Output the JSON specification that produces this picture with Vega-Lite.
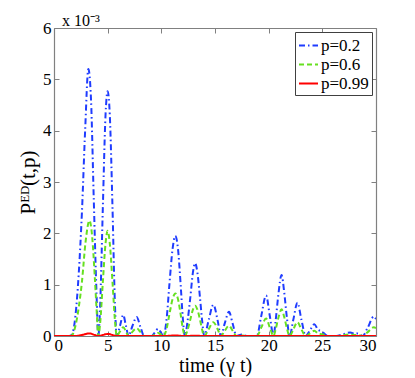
{
  "$schema": "https://vega.github.io/schema/vega-lite/v6.json",
  "autosize": {"type": "none"},
  "padding": {"left": 54, "top": 28, "right": 39, "bottom": 42},
  "width": 322,
  "height": 308,
  "background": "white",
  "title": {"text": "x 10⁻³", "anchor": "start", "frame": "group", "font": "Liberation Serif", "fontSize": 16, "fontWeight": "normal", "color": "black", "offset": -10, "dx": 8, "baseline": "top"},
  "config": {
    "view": {"stroke": null},
    "font": "Liberation Serif",
    "axis": {"grid": false, "domainColor": "#808080", "domainWidth": 1.2, "tickColor": "#808080", "tickSize": -5, "labelColor": "black", "labelFont": "Liberation Serif", "labelFontSize": 17, "titleFont": "Liberation Serif", "titleColor": "black", "titleFontWeight": "normal"}
  },
  "data": {"values": [
    {"t":0,"v":0,"p":"p=0.2"},{"t":1.4,"v":0,"p":"p=0.2"},{"t":1.65,"v":0.02,"p":"p=0.2"},{"t":2.0,"v":0.4,"p":"p=0.2"},{"t":2.3,"v":1.2,"p":"p=0.2"},{"t":2.6,"v":2.4,"p":"p=0.2"},{"t":2.9,"v":4.0,"p":"p=0.2"},{"t":3.2,"v":5.2,"p":"p=0.2"},{"t":3.45,"v":4.6,"p":"p=0.2"},{"t":3.7,"v":2.7,"p":"p=0.2"},{"t":3.95,"v":0.9,"p":"p=0.2"},{"t":4.13,"v":0,"p":"p=0.2"},{"t":4.3,"v":0.6,"p":"p=0.2"},{"t":4.55,"v":2.5,"p":"p=0.2"},{"t":4.8,"v":4.3,"p":"p=0.2"},{"t":5.0,"v":4.77,"p":"p=0.2"},{"t":5.2,"v":4.3,"p":"p=0.2"},{"t":5.45,"v":2.5,"p":"p=0.2"},{"t":5.68,"v":0.6,"p":"p=0.2"},{"t":5.85,"v":0,"p":"p=0.2"},{"t":6.15,"v":0.2,"p":"p=0.2"},{"t":6.45,"v":0.41,"p":"p=0.2"},{"t":6.7,"v":0.2,"p":"p=0.2"},{"t":6.95,"v":0,"p":"p=0.2"},{"t":7.3,"v":0.19,"p":"p=0.2"},{"t":7.7,"v":0.37,"p":"p=0.2"},{"t":8.05,"v":0.18,"p":"p=0.2"},{"t":8.4,"v":0,"p":"p=0.2"},{"t":9.1,"v":0,"p":"p=0.2"},{"t":9.4,"v":0.07,"p":"p=0.2"},{"t":9.7,"v":0.14,"p":"p=0.2"},{"t":9.95,"v":0.07,"p":"p=0.2"},{"t":10.2,"v":0,"p":"p=0.2"},{"t":10.5,"v":0.35,"p":"p=0.2"},{"t":10.75,"v":1.0,"p":"p=0.2"},{"t":11.05,"v":1.7,"p":"p=0.2"},{"t":11.3,"v":1.95,"p":"p=0.2"},{"t":11.55,"v":1.7,"p":"p=0.2"},{"t":11.8,"v":1.0,"p":"p=0.2"},{"t":12.0,"v":0.35,"p":"p=0.2"},{"t":12.2,"v":0,"p":"p=0.2"},{"t":12.45,"v":0.3,"p":"p=0.2"},{"t":12.7,"v":0.75,"p":"p=0.2"},{"t":12.95,"v":1.25,"p":"p=0.2"},{"t":13.15,"v":1.42,"p":"p=0.2"},{"t":13.35,"v":1.25,"p":"p=0.2"},{"t":13.6,"v":0.75,"p":"p=0.2"},{"t":13.8,"v":0.3,"p":"p=0.2"},{"t":14.0,"v":0,"p":"p=0.2"},{"t":14.4,"v":0.3,"p":"p=0.2"},{"t":14.85,"v":0.61,"p":"p=0.2"},{"t":15.25,"v":0.3,"p":"p=0.2"},{"t":15.55,"v":0,"p":"p=0.2"},{"t":15.9,"v":0.24,"p":"p=0.2"},{"t":16.3,"v":0.47,"p":"p=0.2"},{"t":16.65,"v":0.24,"p":"p=0.2"},{"t":17.0,"v":0,"p":"p=0.2"},{"t":17.5,"v":0.03,"p":"p=0.2"},{"t":18.0,"v":0,"p":"p=0.2"},{"t":18.9,"v":0,"p":"p=0.2"},{"t":19.3,"v":0.38,"p":"p=0.2"},{"t":19.76,"v":0.79,"p":"p=0.2"},{"t":20.1,"v":0.4,"p":"p=0.2"},{"t":20.45,"v":0,"p":"p=0.2"},{"t":20.65,"v":0.3,"p":"p=0.2"},{"t":20.9,"v":0.8,"p":"p=0.2"},{"t":21.2,"v":1.19,"p":"p=0.2"},{"t":21.45,"v":0.85,"p":"p=0.2"},{"t":21.7,"v":0.35,"p":"p=0.2"},{"t":21.95,"v":0,"p":"p=0.2"},{"t":22.3,"v":0.32,"p":"p=0.2"},{"t":22.68,"v":0.65,"p":"p=0.2"},{"t":23.05,"v":0.32,"p":"p=0.2"},{"t":23.45,"v":0,"p":"p=0.2"},{"t":23.85,"v":0.11,"p":"p=0.2"},{"t":24.26,"v":0.23,"p":"p=0.2"},{"t":24.6,"v":0.12,"p":"p=0.2"},{"t":24.8,"v":0.1,"p":"p=0.2"},{"t":25.1,"v":0.06,"p":"p=0.2"},{"t":25.5,"v":0,"p":"p=0.2"},{"t":26.3,"v":0,"p":"p=0.2"},{"t":26.9,"v":0.03,"p":"p=0.2"},{"t":27.6,"v":0.07,"p":"p=0.2"},{"t":28.0,"v":0.04,"p":"p=0.2"},{"t":28.3,"v":0.05,"p":"p=0.2"},{"t":28.75,"v":0,"p":"p=0.2"},{"t":29.2,"v":0.15,"p":"p=0.2"},{"t":29.8,"v":0.38,"p":"p=0.2"},{"t":30,"v":0.33,"p":"p=0.2"},

    {"t":0,"v":0,"p":"p=0.6"},{"t":1.4,"v":0,"p":"p=0.6"},{"t":1.65,"v":0.01,"p":"p=0.6"},{"t":2.0,"v":0.2,"p":"p=0.6"},{"t":2.3,"v":0.55,"p":"p=0.6"},{"t":2.6,"v":1.05,"p":"p=0.6"},{"t":2.95,"v":1.85,"p":"p=0.6"},{"t":3.3,"v":2.25,"p":"p=0.6"},{"t":3.55,"v":1.95,"p":"p=0.6"},{"t":3.8,"v":1.15,"p":"p=0.6"},{"t":4.0,"v":0.4,"p":"p=0.6"},{"t":4.13,"v":0,"p":"p=0.6"},{"t":4.3,"v":0.25,"p":"p=0.6"},{"t":4.55,"v":1.05,"p":"p=0.6"},{"t":4.8,"v":1.8,"p":"p=0.6"},{"t":5.0,"v":2.05,"p":"p=0.6"},{"t":5.2,"v":1.8,"p":"p=0.6"},{"t":5.45,"v":1.05,"p":"p=0.6"},{"t":5.68,"v":0.3,"p":"p=0.6"},{"t":5.85,"v":0,"p":"p=0.6"},{"t":6.15,"v":0.09,"p":"p=0.6"},{"t":6.45,"v":0.17,"p":"p=0.6"},{"t":6.7,"v":0.09,"p":"p=0.6"},{"t":6.95,"v":0,"p":"p=0.6"},{"t":7.3,"v":0.08,"p":"p=0.6"},{"t":7.7,"v":0.15,"p":"p=0.6"},{"t":8.05,"v":0.08,"p":"p=0.6"},{"t":8.4,"v":0,"p":"p=0.6"},{"t":9.1,"v":0,"p":"p=0.6"},{"t":9.4,"v":0.03,"p":"p=0.6"},{"t":9.7,"v":0.06,"p":"p=0.6"},{"t":9.95,"v":0.03,"p":"p=0.6"},{"t":10.2,"v":0,"p":"p=0.6"},{"t":10.5,"v":0.15,"p":"p=0.6"},{"t":10.75,"v":0.42,"p":"p=0.6"},{"t":11.05,"v":0.72,"p":"p=0.6"},{"t":11.3,"v":0.83,"p":"p=0.6"},{"t":11.55,"v":0.72,"p":"p=0.6"},{"t":11.8,"v":0.42,"p":"p=0.6"},{"t":12.0,"v":0.15,"p":"p=0.6"},{"t":12.2,"v":0,"p":"p=0.6"},{"t":12.45,"v":0.12,"p":"p=0.6"},{"t":12.7,"v":0.32,"p":"p=0.6"},{"t":12.95,"v":0.52,"p":"p=0.6"},{"t":13.15,"v":0.59,"p":"p=0.6"},{"t":13.35,"v":0.52,"p":"p=0.6"},{"t":13.6,"v":0.32,"p":"p=0.6"},{"t":13.8,"v":0.12,"p":"p=0.6"},{"t":14.0,"v":0,"p":"p=0.6"},{"t":14.4,"v":0.13,"p":"p=0.6"},{"t":14.85,"v":0.27,"p":"p=0.6"},{"t":15.25,"v":0.13,"p":"p=0.6"},{"t":15.55,"v":0,"p":"p=0.6"},{"t":15.9,"v":0.1,"p":"p=0.6"},{"t":16.3,"v":0.2,"p":"p=0.6"},{"t":16.65,"v":0.1,"p":"p=0.6"},{"t":17.0,"v":0,"p":"p=0.6"},{"t":17.5,"v":0.01,"p":"p=0.6"},{"t":18.0,"v":0,"p":"p=0.6"},{"t":18.9,"v":0,"p":"p=0.6"},{"t":19.3,"v":0.16,"p":"p=0.6"},{"t":19.76,"v":0.34,"p":"p=0.6"},{"t":20.1,"v":0.17,"p":"p=0.6"},{"t":20.45,"v":0,"p":"p=0.6"},{"t":20.65,"v":0.13,"p":"p=0.6"},{"t":20.9,"v":0.35,"p":"p=0.6"},{"t":21.2,"v":0.52,"p":"p=0.6"},{"t":21.45,"v":0.37,"p":"p=0.6"},{"t":21.7,"v":0.15,"p":"p=0.6"},{"t":21.95,"v":0,"p":"p=0.6"},{"t":22.3,"v":0.13,"p":"p=0.6"},{"t":22.68,"v":0.27,"p":"p=0.6"},{"t":23.05,"v":0.13,"p":"p=0.6"},{"t":23.45,"v":0,"p":"p=0.6"},{"t":23.85,"v":0.05,"p":"p=0.6"},{"t":24.26,"v":0.1,"p":"p=0.6"},{"t":24.6,"v":0.05,"p":"p=0.6"},{"t":24.8,"v":0.04,"p":"p=0.6"},{"t":25.1,"v":0.03,"p":"p=0.6"},{"t":25.5,"v":0,"p":"p=0.6"},{"t":26.3,"v":0,"p":"p=0.6"},{"t":27.6,"v":0.03,"p":"p=0.6"},{"t":28.0,"v":0.02,"p":"p=0.6"},{"t":28.3,"v":0.02,"p":"p=0.6"},{"t":28.75,"v":0,"p":"p=0.6"},{"t":29.2,"v":0.07,"p":"p=0.6"},{"t":29.8,"v":0.17,"p":"p=0.6"},{"t":30,"v":0.15,"p":"p=0.6"},

    {"t":0,"v":0,"p":"p=0.99"},{"t":2.0,"v":0,"p":"p=0.99"},{"t":2.6,"v":0.02,"p":"p=0.99"},{"t":3.3,"v":0.05,"p":"p=0.99"},{"t":3.8,"v":0.02,"p":"p=0.99"},{"t":4.13,"v":0,"p":"p=0.99"},{"t":4.55,"v":0.02,"p":"p=0.99"},{"t":5.0,"v":0.04,"p":"p=0.99"},{"t":5.45,"v":0.02,"p":"p=0.99"},{"t":5.85,"v":0,"p":"p=0.99"},{"t":10.2,"v":0,"p":"p=0.99"},{"t":11.3,"v":0.01,"p":"p=0.99"},{"t":12.2,"v":0,"p":"p=0.99"},{"t":13.15,"v":0.005,"p":"p=0.99"},{"t":14.0,"v":0,"p":"p=0.99"},{"t":30,"v":0,"p":"p=0.99"}
  ]},
  "layer": [
    {
      "mark": {"type": "line", "interpolate": "monotone", "strokeWidth": 2, "clip": true},
      "encoding": {
        "x": {"field": "t", "type": "quantitative", "scale": {"domain": [0, 30], "nice": false}, "axis": {"values": [0,5,10,15,20,25,30], "title": "time (γ t)", "titleFontSize": 20, "titlePadding": 2, "labelPadding": 6}},
        "y": {"field": "v", "type": "quantitative", "scale": {"domain": [0, 6], "nice": false}, "axis": {"values": [0,1,2,3,4,5,6], "title": "Pᴱᴰ(t,p)", "titleFontSize": 21, "titlePadding": 4, "labelPadding": 8}},
        "color": {"field": "p", "type": "nominal", "scale": {"domain": ["p=0.2","p=0.6","p=0.99"], "range": ["#1f3cff","#66e020","#ff0000"]},
          "legend": {"title": null, "orient": "top-right", "offset": 4, "fillColor": "white", "strokeColor": "#404040", "padding": 3, "symbolType": "stroke", "symbolSize": 361, "symbolStrokeWidth": 2, "labelFont": "Liberation Serif", "labelFontSize": 17, "labelColor": "black", "rowPadding": 0, "labelOffset": 2}},
        "strokeDash": {"field": "p", "type": "nominal", "scale": {"domain": ["p=0.2","p=0.6","p=0.99"], "range": [[6,3,1.5,3],[5,3],[1,0]]}, "legend": null},
        "order": {"field": "t", "type": "quantitative"}
      }
    },
    {
      "mark": {"type": "line", "opacity": 0},
      "encoding": {
        "x": {"field": "t", "type": "quantitative", "axis": {"orient": "top", "values": [0,5,10,15,20,25,30], "labels": false, "title": null}},
        "y": {"field": "v", "type": "quantitative", "axis": {"orient": "right", "values": [0,1,2,3,4,5,6], "labels": false, "title": null}}
      }
    }
  ],
  "resolve": {"axis": {"x": "independent", "y": "independent"}}
}
